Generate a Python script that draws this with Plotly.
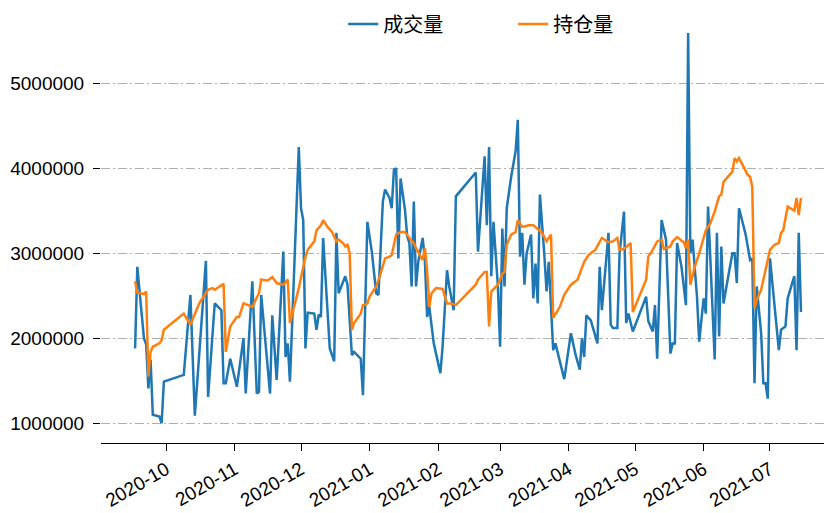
import plotly.graph_objects as go

# 成交量 (volume) - vertices
vol_dates = [
    "2020-09-17", "2020-09-18", "2020-09-21", "2020-09-22", "2020-09-23", "2020-09-24", "2020-09-25",
    "2020-09-28", "2020-09-29", "2020-09-30", "2020-10-09", "2020-10-12", "2020-10-14", "2020-10-19",
    "2020-10-20", "2020-10-23", "2020-10-26", "2020-10-27", "2020-10-28", "2020-10-30", "2020-11-02",
    "2020-11-05", "2020-11-06", "2020-11-09", "2020-11-11", "2020-11-12", "2020-11-13", "2020-11-17",
    "2020-11-18", "2020-11-20", "2020-11-23", "2020-11-24", "2020-11-25", "2020-11-26", "2020-11-30",
    "2020-12-01", "2020-12-02", "2020-12-03", "2020-12-04", "2020-12-07", "2020-12-08", "2020-12-09",
    "2020-12-10", "2020-12-11", "2020-12-14", "2020-12-16", "2020-12-17", "2020-12-18", "2020-12-21",
    "2020-12-22", "2020-12-24", "2020-12-25", "2020-12-28", "2020-12-29", "2020-12-31", "2021-01-02",
    "2021-01-04", "2021-01-05", "2021-01-07", "2021-01-08", "2021-01-10", "2021-01-11", "2021-01-12",
    "2021-01-13", "2021-01-14", "2021-01-15", "2021-01-17", "2021-01-18", "2021-01-19", "2021-01-20",
    "2021-01-21", "2021-01-22", "2021-01-23", "2021-01-25", "2021-01-26", "2021-01-27", "2021-01-28",
    "2021-01-30", "2021-02-02", "2021-02-03", "2021-02-05", "2021-02-06", "2021-02-08", "2021-02-09",
    "2021-02-18", "2021-02-19", "2021-02-22", "2021-02-23", "2021-02-24", "2021-02-25", "2021-02-26",
    "2021-02-28", "2021-03-01", "2021-03-02", "2021-03-03", "2021-03-04", "2021-03-06", "2021-03-08",
    "2021-03-09", "2021-03-10", "2021-03-11", "2021-03-12", "2021-03-13", "2021-03-15", "2021-03-16",
    "2021-03-17", "2021-03-18", "2021-03-19", "2021-03-21", "2021-03-22", "2021-03-23", "2021-03-25",
    "2021-03-26", "2021-03-28", "2021-03-30", "2021-04-02", "2021-04-04", "2021-04-06", "2021-04-07",
    "2021-04-08", "2021-04-09", "2021-04-11", "2021-04-14", "2021-04-15", "2021-04-16", "2021-04-19",
    "2021-04-20", "2021-04-21", "2021-04-23", "2021-04-24", "2021-04-26", "2021-04-27", "2021-04-28",
    "2021-04-30", "2021-05-06", "2021-05-07", "2021-05-09", "2021-05-10", "2021-05-11", "2021-05-13",
    "2021-05-15", "2021-05-17", "2021-05-18", "2021-05-19", "2021-05-20", "2021-05-22", "2021-05-24",
    "2021-05-25", "2021-05-26", "2021-05-27", "2021-05-29", "2021-05-30", "2021-06-01", "2021-06-02",
    "2021-06-03", "2021-06-04", "2021-06-06", "2021-06-07", "2021-06-08", "2021-06-09", "2021-06-10",
    "2021-06-12", "2021-06-14", "2021-06-15", "2021-06-16", "2021-06-17", "2021-06-20", "2021-06-22",
    "2021-06-23", "2021-06-24", "2021-06-25", "2021-06-27", "2021-06-28", "2021-06-29", "2021-06-30",
    "2021-07-01", "2021-07-03", "2021-07-05", "2021-07-06", "2021-07-08", "2021-07-09", "2021-07-12",
    "2021-07-13", "2021-07-14", "2021-07-15",
]
vol_values = [
    1880000, 2840000, 2000000, 1930000, 1410000, 1750000, 1100000,
    1080000, 1000000, 1490000, 1570000, 2510000, 1090000, 2910000,
    1310000, 2410000, 2330000, 1470000, 1470000, 1760000, 1430000,
    2000000, 1350000, 2670000, 1350000, 1370000, 2510000, 1350000,
    2270000, 1510000, 3020000, 1780000, 1940000, 1490000, 4250000,
    3530000, 3390000, 1880000, 2300000, 2290000, 2100000, 2280000,
    2250000, 3180000, 1880000, 1730000, 3240000, 2530000, 2730000,
    2630000, 1800000, 1840000, 1760000, 1330000, 3370000, 3020000,
    2530000, 2510000, 3610000, 3750000, 3650000, 3530000, 3980000,
    4000000, 2940000, 3880000, 3510000, 3200000, 3120000, 2610000,
    3610000, 2610000, 2900000, 3180000, 2920000, 2250000, 2370000,
    1940000, 1590000, 1900000, 2800000, 2610000, 2330000, 3670000,
    3950000, 3020000, 4140000, 3330000, 4250000, 2730000, 3370000,
    2610000, 1900000, 3290000, 2610000, 3530000, 3900000, 4200000,
    4570000, 2960000, 3240000, 2630000, 3000000, 3220000, 2470000,
    2880000, 2410000, 3690000, 2980000, 2550000, 2900000, 1860000,
    1940000, 1730000, 1520000, 2060000, 1820000, 1630000, 2000000,
    1780000, 2270000, 2210000, 1940000, 2840000, 2330000, 3240000,
    2160000, 2120000, 2120000, 3000000, 3490000, 2180000, 2290000,
    2080000, 2490000, 2200000, 2080000, 2390000, 1760000, 3390000,
    3160000, 1820000, 1940000, 1940000, 3120000, 2840000, 2390000,
    5590000, 3000000, 3160000, 2490000, 1960000, 2470000, 2290000,
    3550000, 2960000, 1750000, 3240000, 2020000, 3080000, 2410000,
    2710000, 3000000, 3000000, 2650000, 3530000, 3220000, 2920000,
    2940000, 1470000, 2610000, 2060000, 1470000, 1470000, 1290000,
    2940000, 2410000, 1860000, 2100000, 2140000, 2470000, 2730000,
    1860000, 3240000, 2310000,
]

# 持仓量 (open interest) - vertices
oi_dates = [
    "2020-09-17", "2020-09-18", "2020-09-21", "2020-09-22", "2020-09-23", "2020-09-24", "2020-09-25",
    "2020-09-28", "2020-09-29", "2020-09-30", "2020-10-09", "2020-10-12", "2020-10-16", "2020-10-20",
    "2020-10-22", "2020-10-23", "2020-10-27", "2020-10-28", "2020-10-30", "2020-11-02", "2020-11-03",
    "2020-11-05", "2020-11-09", "2020-11-12", "2020-11-13", "2020-11-16", "2020-11-18", "2020-11-19",
    "2020-11-20", "2020-11-23", "2020-11-25", "2020-11-26", "2020-11-30", "2020-12-03", "2020-12-04",
    "2020-12-07", "2020-12-08", "2020-12-10", "2020-12-11", "2020-12-13", "2020-12-15", "2020-12-17",
    "2020-12-18", "2020-12-20", "2020-12-21", "2020-12-22", "2020-12-23", "2020-12-24", "2020-12-25",
    "2020-12-28", "2020-12-29", "2020-12-31", "2021-01-01", "2021-01-04", "2021-01-06", "2021-01-08",
    "2021-01-10", "2021-01-11", "2021-01-12", "2021-01-13", "2021-01-15", "2021-01-17", "2021-01-19",
    "2021-01-21", "2021-01-22", "2021-01-24", "2021-01-25", "2021-01-26", "2021-01-27", "2021-01-28",
    "2021-01-29", "2021-01-31", "2021-02-03", "2021-02-05", "2021-02-07", "2021-02-09", "2021-02-18",
    "2021-02-19", "2021-02-22", "2021-02-23", "2021-02-24", "2021-02-25", "2021-02-28", "2021-03-02",
    "2021-03-03", "2021-03-04", "2021-03-06", "2021-03-08", "2021-03-09", "2021-03-11", "2021-03-14",
    "2021-03-16", "2021-03-18", "2021-03-20", "2021-03-22", "2021-03-24", "2021-03-25", "2021-03-28",
    "2021-03-30", "2021-04-02", "2021-04-05", "2021-04-08", "2021-04-10", "2021-04-13", "2021-04-16",
    "2021-04-19", "2021-04-21", "2021-04-23", "2021-04-24", "2021-04-26", "2021-04-29", "2021-04-30",
    "2021-05-06", "2021-05-07", "2021-05-09", "2021-05-11", "2021-05-13", "2021-05-14", "2021-05-17",
    "2021-05-18", "2021-05-20", "2021-05-23", "2021-05-24", "2021-05-25", "2021-05-26", "2021-05-28",
    "2021-05-30", "2021-06-02", "2021-06-04", "2021-06-06", "2021-06-08", "2021-06-09", "2021-06-10",
    "2021-06-12", "2021-06-14", "2021-06-15", "2021-06-16", "2021-06-17", "2021-06-19", "2021-06-21",
    "2021-06-22", "2021-06-23", "2021-06-24", "2021-06-25", "2021-06-27", "2021-06-29", "2021-06-30",
    "2021-07-01", "2021-07-03", "2021-07-05", "2021-07-06", "2021-07-07", "2021-07-09", "2021-07-12",
    "2021-07-13", "2021-07-14", "2021-07-15",
]
oi_values = [
    2670000, 2540000, 2520000, 2550000, 1550000, 1840000, 1900000,
    1940000, 1980000, 2100000, 2290000, 2160000, 2410000, 2570000,
    2590000, 2570000, 2640000, 1840000, 2140000, 2250000, 2250000,
    2410000, 2370000, 2530000, 2690000, 2680000, 2720000, 2690000,
    2650000, 2630000, 2690000, 2180000, 2590000, 2960000, 3040000,
    3140000, 3270000, 3330000, 3390000, 3310000, 3250000, 3140000,
    3160000, 3120000, 3080000, 3100000, 3000000, 2100000, 2180000,
    2290000, 2390000, 2410000, 2490000, 2610000, 2760000, 2940000,
    2960000, 2980000, 3120000, 3220000, 3250000, 3250000, 3180000,
    3120000, 3060000, 2960000, 2920000, 3060000, 2800000, 2370000,
    2530000, 2590000, 2580000, 2410000, 2410000, 2390000, 2630000,
    2690000, 2780000, 2780000, 2140000, 2550000, 2630000, 2760000,
    2780000, 3100000, 3220000, 3250000, 3390000, 3310000, 3330000,
    3330000, 3290000, 3240000, 3140000, 3220000, 2240000, 2370000,
    2510000, 2630000, 2690000, 2900000, 2980000, 3040000, 3180000,
    3130000, 3140000, 3180000, 3040000, 3050000, 3120000, 2310000,
    2690000, 2960000, 3040000, 3140000, 3160000, 3050000, 3080000,
    3140000, 3190000, 3130000, 3060000, 3160000, 2630000, 2840000,
    3000000, 3270000, 3350000, 3490000, 3670000, 3690000, 3840000,
    3900000, 3960000, 4120000, 4080000, 4120000, 4020000, 3920000,
    3900000, 3780000, 2350000, 2450000, 2570000, 2800000, 2900000,
    3040000, 3100000, 3120000, 3240000, 3270000, 3550000, 3500000,
    3650000, 3450000, 3650000,
]

tick_dates = ["2020-10-01", "2020-11-01", "2020-12-01", "2021-01-01", "2021-02-01",
              "2021-03-01", "2021-04-01", "2021-05-01", "2021-06-01", "2021-07-01"]
y_ticks = [1000000, 2000000, 3000000, 4000000, 5000000]

fig = go.Figure()
fig.add_trace(go.Scatter(x=vol_dates, y=vol_values, mode="lines", name="成交量",
                         line=dict(color="#1f77b4", width=2.5)))
fig.add_trace(go.Scatter(x=oi_dates, y=oi_values, mode="lines", name="持仓量",
                         line=dict(color="#ff7f0e", width=2.5)))

fig.update_layout(
    width=824, height=513,
    margin=dict(l=101, r=0, t=14, b=70),
    paper_bgcolor="white", plot_bgcolor="white",
    font=dict(family="Liberation Sans, Noto Sans CJK SC", size=19, color="#000"),
    showlegend=True,
    legend=dict(orientation="h", xref="paper", yref="paper",
                x=0.335, y=0.9767, xanchor="left", yanchor="middle",
                font=dict(family="Noto Sans CJK SC", size=20, color="#000"),
                entrywidth=125, bgcolor="rgba(0,0,0,0)"),
    xaxis=dict(type="date", range=["2020-09-01 14:00", "2021-07-25 10:00"],
               tickvals=tick_dates, tickformat="%Y-%m", tickangle=-30,
               showline=True, linecolor="#000", linewidth=1.3,
               ticks="outside", ticklen=7, tickwidth=1.3, tickcolor="#000",
               showgrid=False, zeroline=False, automargin=False),
    yaxis=dict(range=[768000, 5815000], tickvals=y_ticks, tickformat="d",
               showline=False, ticks="outside", ticklen=7, tickwidth=1.3, tickcolor="#000",
               ticklabelstandoff=5, automargin=False,
               showgrid=True, gridcolor="#b0b0b0", gridwidth=1.2,
               griddash="9px,3px,2px,3px", zeroline=False),
)

fig.write_html("out.html", config={"displayModeBar": False},
               post_script="document.body.style.margin='0';")
